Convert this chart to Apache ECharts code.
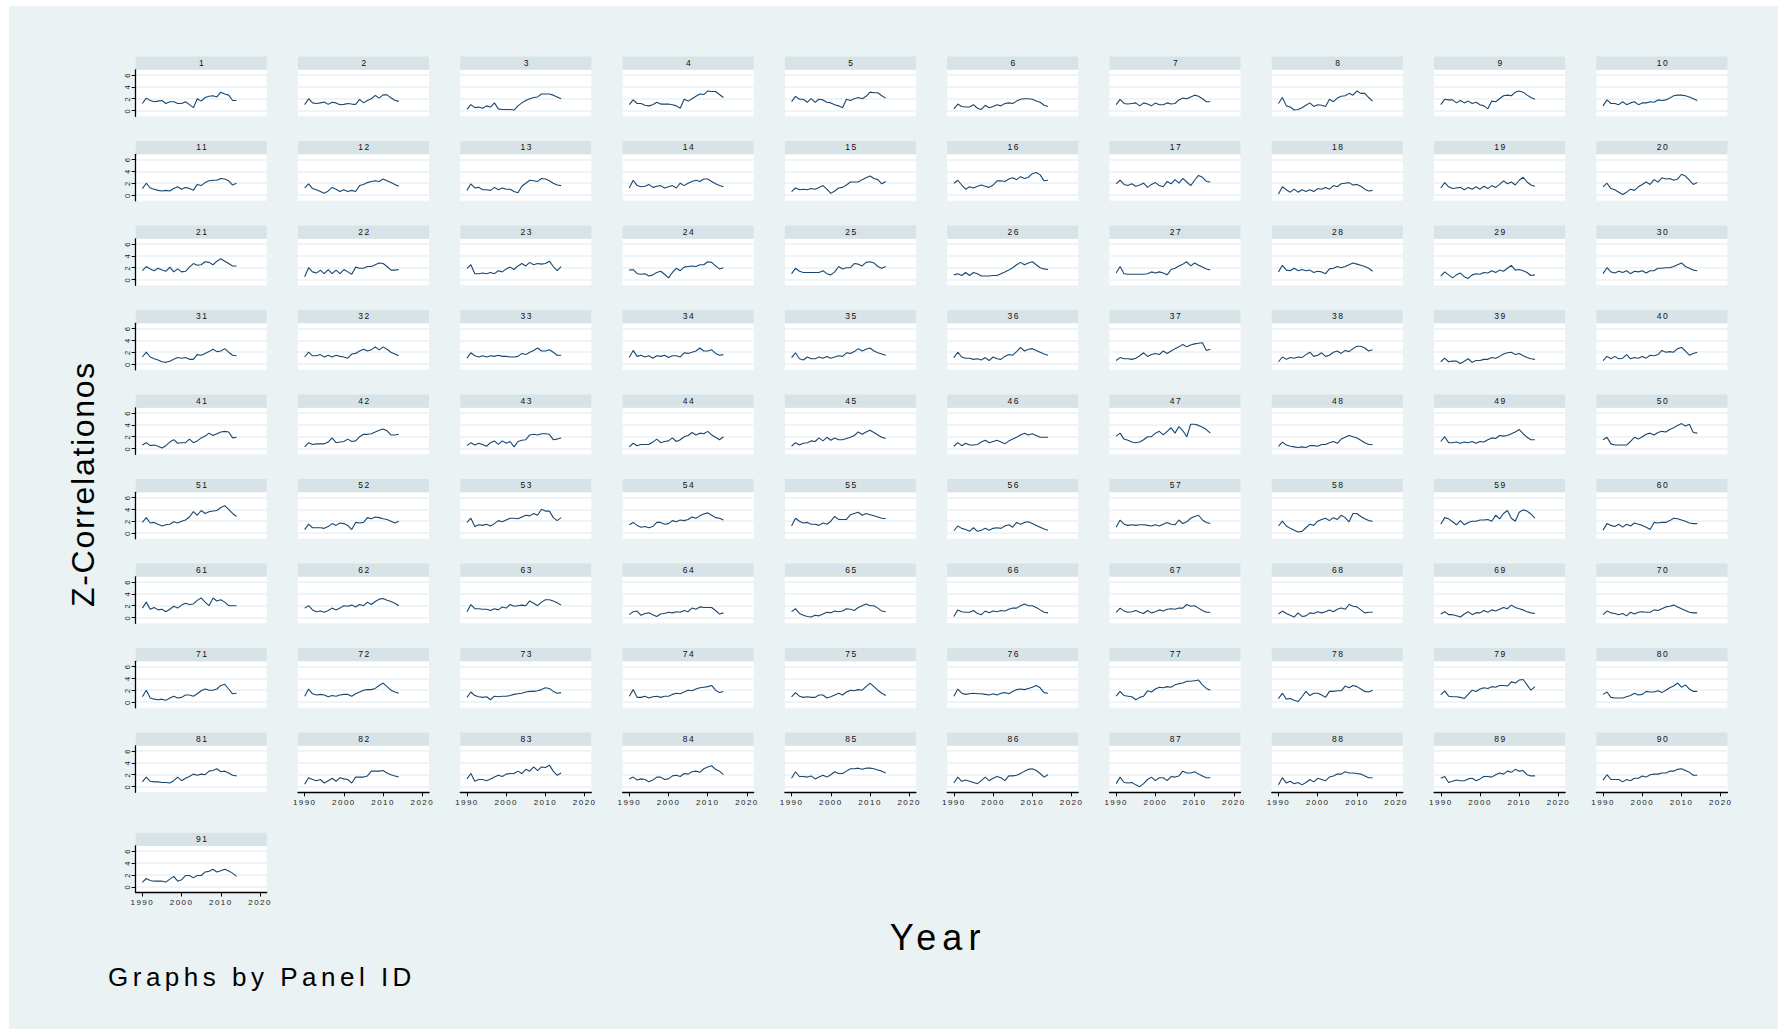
<!DOCTYPE html>
<html>
<head>
<meta charset="utf-8">
<script src="https://cdn.jsdelivr.net/npm/echarts@6/dist/echarts.min.js"></script>
<style>
    html, body { margin: 0; padding: 0; background: #ffffff; }
    #chart { width: 1787px; height: 1031px; }
    #chart svg text { letter-spacing: 0.18em; }
    #chart svg text[style*="32px"] { letter-spacing: 1.7px; }
    #chart svg text[style*="36px"] { letter-spacing: 6px; }
    #chart svg text[style*="26px"] { letter-spacing: 4.5px; }
</style>
</head>
<body>
<div id="chart"></div>
<script>
const years = [1990, 1991, 1992, 1993, 1994, 1995, 1996, 1997, 1998, 1999, 2000, 2001, 2002,
    2003, 2004, 2005, 2006, 2007, 2008, 2009, 2010, 2011, 2012, 2013, 2014];

const xTicks = [1990, 2000, 2010, 2020];
const yTicks = [0, 2, 4, 6];

// one row per panel (Panel ID 1..91)
const zCorr = [
    [1.2,2.1,1.7,1.5,1.6,1.7,1.2,1.5,1.5,1.2,1.2,1.5,1.0,0.5,2.0,1.6,2.2,2.4,2.5,2.3,3.1,2.8,2.6,1.7,1.7],
    [1.0,2.0,1.3,1.2,1.3,1.45,1.05,1.4,1.3,1.0,1.05,1.2,1.1,1.05,1.9,1.3,1.7,2.0,2.55,2.1,2.65,2.65,2.15,1.75,1.55],
    [0.2,1.0,0.5,0.6,0.4,0.8,0.6,1.3,0.3,0.2,0.2,0.2,0.1,0.8,1.3,1.7,2.0,2.2,2.3,2.8,2.8,2.8,2.6,2.3,2.0],
    [1.0,1.8,1.2,1.2,0.9,0.8,1.0,1.4,1.1,1.1,1.1,1.0,0.8,0.4,1.9,1.6,2.0,2.4,2.8,2.7,3.3,3.2,3.2,2.7,2.2],
    [1.5,2.4,1.9,1.9,1.4,2.0,1.4,1.9,1.8,1.4,1.3,1.0,0.8,0.5,1.9,1.7,2.0,2.2,2.0,2.4,3.1,3.0,3.0,2.5,2.1],
    [0.3,1.1,0.7,0.6,0.6,1.0,0.4,0.2,0.9,0.5,0.7,1.0,0.8,1.2,1.3,1.2,1.6,1.9,2.0,2.0,1.9,1.6,1.4,0.9,0.7],
    [1.0,1.9,1.2,1.1,1.2,1.3,0.8,1.3,1.1,0.8,1.3,1.0,1.0,1.3,1.1,1.2,1.8,2.1,2.0,2.3,2.6,2.4,2.0,1.5,1.5],
    [1.2,2.2,0.8,0.6,0.1,0.2,0.5,0.9,1.3,0.7,1.0,0.9,0.7,1.9,1.5,2.1,2.4,2.5,2.9,2.6,3.3,2.9,2.9,2.2,1.6],
    [1.0,1.9,1.8,1.8,1.3,1.7,1.3,1.6,1.2,1.4,1.0,0.8,0.3,1.6,1.5,2.0,2.5,2.6,2.5,3.1,3.3,3.1,2.6,2.2,1.9],
    [0.8,1.8,1.2,1.2,1.0,1.5,1.0,1.3,1.5,1.0,1.3,1.3,1.5,1.4,1.8,1.7,1.8,2.1,2.5,2.6,2.6,2.5,2.3,2.0,1.7],
    [1.1,2.0,1.2,1.0,0.8,0.7,0.8,0.7,1.1,1.4,1.0,1.3,1.1,0.8,1.8,1.6,2.1,2.4,2.5,2.5,2.8,2.7,2.4,1.7,2.0],
    [1.2,1.9,1.1,0.9,0.6,0.3,0.7,1.3,1.0,0.6,0.9,0.6,0.8,0.6,1.6,1.8,2.1,2.3,2.4,2.3,2.7,2.4,2.1,1.8,1.5],
    [0.8,1.9,1.2,1.3,0.9,0.9,0.8,1.3,0.9,1.2,1.0,1.0,0.6,0.4,1.5,2.0,2.5,2.4,2.3,2.8,2.7,2.4,2.0,1.7,1.6],
    [1.2,2.5,1.6,1.4,1.5,1.8,1.3,1.5,1.6,1.2,1.4,1.6,1.2,2.0,1.6,2.0,2.3,2.5,2.3,2.7,2.7,2.3,1.9,1.6,1.4],
    [0.6,1.2,0.9,1.0,0.9,1.1,1.0,1.3,1.6,1.0,0.3,0.7,1.2,1.3,1.7,2.2,2.2,2.2,2.6,2.9,3.2,2.8,2.6,1.9,2.3],
    [2.0,2.5,1.7,1.0,1.4,1.2,1.5,1.7,1.5,1.3,1.7,2.4,2.4,2.3,2.7,2.9,2.6,3.1,2.8,3.0,3.6,3.8,3.4,2.4,2.5],
    [1.9,2.5,1.8,1.6,1.9,1.5,1.7,2.0,1.3,1.8,2.1,1.6,1.4,2.3,1.9,2.6,2.0,2.8,2.2,1.6,2.5,3.3,3.0,2.3,2.2],
    [0.2,1.4,0.9,0.5,1.0,0.5,0.9,0.6,0.9,0.6,1.1,1.0,1.3,1.0,1.6,1.4,1.9,2.0,2.1,1.7,1.8,1.5,1.0,0.7,0.8],
    [1.2,2.1,1.4,1.1,1.2,1.3,0.9,1.3,1.0,1.4,1.0,1.5,1.1,1.6,1.3,1.8,2.4,1.9,2.2,1.7,2.5,3.0,2.2,1.7,1.5],
    [1.4,2.0,1.1,0.9,0.5,0.1,0.5,1.0,0.8,1.4,1.8,2.2,1.8,2.6,2.2,2.9,2.7,2.8,2.5,2.7,3.5,3.2,2.5,1.8,2.1],
    [1.5,2.2,1.8,1.5,1.9,1.6,1.4,2.1,1.3,1.8,1.3,1.4,2.1,2.7,2.4,2.5,3.0,2.9,2.5,3.1,3.5,3.1,2.7,2.3,2.3],
    [0.5,2.0,1.3,1.1,1.6,1.0,1.7,1.0,1.6,1.0,1.7,1.3,0.9,2.1,1.9,1.9,2.2,2.2,2.5,2.8,2.7,2.2,1.6,1.6,1.7],
    [1.9,2.5,1.0,1.0,1.1,1.0,1.2,1.0,1.5,1.3,1.8,2.1,1.7,2.3,2.7,2.3,2.9,2.5,2.7,2.6,2.7,3.1,2.2,1.5,2.2],
    [1.6,1.7,1.0,0.9,1.0,0.6,0.8,1.2,1.4,0.9,0.3,1.2,1.9,1.5,2.1,2.2,2.3,2.2,2.5,2.5,3.0,2.9,2.3,1.8,2.0],
    [1.0,1.9,1.4,1.2,1.2,1.2,1.2,1.2,1.5,1.0,0.8,1.3,2.2,1.8,2.0,2.0,2.7,2.6,2.3,2.9,3.0,2.8,2.2,1.9,2.2],
    [0.8,1.0,0.7,1.2,0.7,1.2,1.0,0.6,0.6,0.6,0.7,0.7,1.0,1.3,1.6,2.0,2.5,2.9,2.5,2.8,3.0,2.5,2.0,1.8,1.7],
    [1.1,2.2,1.0,0.9,0.9,0.9,0.9,0.9,1.0,1.3,1.1,1.3,1.1,0.8,1.7,1.9,2.3,2.6,3.0,2.3,2.8,2.4,2.1,1.8,1.6],
    [1.3,2.4,1.6,1.5,1.9,1.5,1.7,1.5,1.6,1.2,1.4,1.3,1.0,1.8,1.9,2.2,2.0,2.2,2.5,2.8,2.6,2.4,2.2,1.9,1.4],
    [0.6,1.3,0.8,0.3,0.8,1.1,0.5,0.2,0.8,1.0,0.9,1.2,1.1,1.5,1.2,1.6,1.4,1.9,2.4,1.6,1.7,1.5,1.2,0.7,0.8],
    [1.0,2.0,1.3,1.1,1.4,1.2,1.5,1.0,1.4,1.3,1.5,1.1,1.5,1.5,1.9,1.9,2.0,2.0,2.2,2.5,2.8,2.2,1.9,1.6,1.5],
    [1.2,2.0,1.2,0.9,0.7,0.4,0.3,0.5,0.8,1.1,1.0,1.1,0.8,0.8,1.6,1.5,1.8,2.1,2.5,2.1,2.2,2.6,2.0,1.5,1.4],
    [1.2,2.0,1.4,1.4,1.6,1.2,1.5,1.2,1.5,1.3,1.2,1.0,1.7,1.8,2.2,2.5,2.2,2.4,2.9,2.4,2.9,2.5,2.0,1.7,1.4],
    [1.0,1.9,1.4,1.2,1.4,1.2,1.4,1.3,1.5,1.3,1.3,1.2,1.2,1.3,1.8,1.6,2.0,2.3,2.7,2.2,2.2,2.4,2.0,1.5,1.5],
    [1.1,2.3,1.3,1.5,1.2,1.4,1.0,1.4,1.3,1.5,1.1,1.4,1.4,1.2,1.9,1.8,2.0,2.2,2.7,2.2,2.2,2.4,1.8,1.5,1.6],
    [1.1,1.9,0.9,0.7,1.2,0.9,0.9,1.2,1.0,1.3,1.0,1.2,1.4,1.3,1.9,1.8,2.1,2.6,2.2,2.5,2.7,2.2,1.9,1.7,1.5],
    [1.1,2.0,1.2,1.0,1.0,0.8,0.9,0.7,1.1,0.6,1.2,0.9,0.8,1.3,1.6,1.5,2.1,2.8,2.2,2.5,2.6,2.3,2.0,1.7,1.5],
    [0.6,1.1,0.9,0.9,0.8,1.0,1.4,1.9,1.3,1.6,1.8,1.6,2.2,1.8,2.2,2.6,2.9,3.3,2.9,3.2,3.4,3.5,3.6,2.3,2.5],
    [0.4,1.2,0.8,1.1,1.0,1.2,1.1,1.6,2.0,1.3,1.5,1.9,1.3,1.5,2.0,2.2,1.8,2.3,2.1,2.6,3.0,3.0,2.7,2.2,2.4],
    [0.4,1.0,0.4,0.5,0.5,0.1,0.5,0.9,0.3,0.6,0.6,0.8,0.8,1.1,1.0,1.3,1.7,1.9,2.0,1.6,1.8,1.4,1.1,0.9,0.8],
    [0.6,1.3,0.9,1.3,0.9,1.0,1.6,0.9,1.1,1.0,1.3,1.0,1.5,1.4,1.6,2.3,2.0,2.1,2.0,2.6,2.8,2.2,1.5,1.8,2.0],
    [0.6,1.0,0.5,0.6,0.4,0.1,0.5,1.1,1.5,0.9,1.0,1.0,1.6,1.0,1.3,1.8,2.1,2.6,2.2,2.5,2.8,2.9,2.8,1.8,1.9],
    [0.3,1.0,0.7,0.8,0.8,0.8,1.1,1.8,1.0,1.1,1.2,1.6,1.2,1.3,2.0,2.4,2.4,2.5,2.8,3.1,3.3,3.0,2.3,2.3,2.4],
    [0.5,1.0,0.6,0.9,0.7,0.4,1.0,1.3,0.7,1.3,0.9,1.2,0.3,1.2,1.4,1.5,2.3,2.4,2.3,2.5,2.5,2.4,1.5,1.6,1.8],
    [0.3,0.9,0.5,0.7,0.7,0.7,1.1,1.6,1.0,1.2,1.3,1.8,1.2,1.5,2.0,2.2,2.7,2.3,2.6,2.5,2.9,2.3,1.9,1.5,2.0],
    [0.4,1.0,0.6,0.9,1.0,1.3,1.2,1.8,1.3,1.9,1.4,1.8,1.5,1.5,1.7,1.9,2.2,2.8,2.4,2.8,3.1,2.7,2.3,1.9,1.7],
    [0.4,1.0,0.5,0.9,0.6,0.6,0.7,1.1,1.4,1.0,1.2,1.4,1.1,0.8,1.3,1.6,1.9,2.3,2.6,2.3,2.5,2.2,1.9,1.9,1.9],
    [2.1,2.6,1.6,1.4,1.1,1.0,1.1,1.5,2.0,2.0,2.6,2.9,2.3,2.9,3.5,2.6,3.7,3.0,2.0,4.1,4.1,3.9,3.6,3.2,2.6],
    [0.4,1.1,0.6,0.4,0.3,0.2,0.3,0.2,0.5,0.5,0.4,0.7,0.7,1.0,1.2,0.9,1.6,1.9,2.2,2.0,1.8,1.4,1.0,0.7,0.7],
    [1.2,2.0,1.0,1.0,1.1,0.9,1.1,1.0,1.2,0.9,1.2,1.1,1.5,1.8,1.7,2.2,2.1,2.2,2.5,2.8,3.2,2.5,1.9,1.5,1.5],
    [1.5,1.9,0.8,0.6,0.6,0.6,0.6,1.2,1.9,1.6,2.0,2.4,2.6,2.3,2.7,2.9,2.8,3.2,3.5,3.9,4.2,3.8,4.1,2.7,2.6],
    [1.8,2.6,1.7,1.8,1.5,1.2,1.4,1.5,1.9,1.7,2.0,2.2,2.7,3.6,3.0,3.8,3.3,3.6,3.7,3.8,4.3,4.6,4.0,3.3,2.8],
    [0.6,1.5,0.9,0.9,0.9,0.8,1.1,1.6,1.3,1.7,1.6,1.3,0.6,1.8,1.7,1.8,2.6,2.4,2.7,2.6,2.4,2.3,2.0,1.7,2.0],
    [1.8,2.5,1.1,1.4,1.3,1.5,1.2,1.6,2.1,1.9,2.2,2.5,2.5,2.4,2.7,3.0,2.9,3.3,3.0,4.0,3.7,3.7,2.6,2.1,2.6],
    [1.4,1.8,1.3,1.0,1.1,0.9,1.1,1.8,1.8,1.5,1.6,2.1,1.9,2.2,2.1,2.3,2.7,2.5,2.9,3.2,3.4,3.0,2.6,2.5,2.2],
    [1.2,2.5,2.0,1.7,1.8,1.5,1.5,1.3,1.7,1.5,2.0,2.8,2.3,2.3,2.3,3.1,3.3,3.5,3.0,3.3,3.1,2.9,2.7,2.5,2.4],
    [0.4,1.2,0.8,0.6,0.3,0.9,0.3,0.5,0.8,0.5,0.8,0.9,0.8,1.2,1.4,1.0,1.8,1.5,1.8,1.9,1.6,1.3,1.0,0.7,0.5],
    [1.0,2.2,1.5,1.3,1.4,1.3,1.4,1.4,1.3,1.2,1.4,1.2,1.5,1.8,1.5,1.4,2.2,1.6,1.9,2.5,2.8,3.0,2.2,1.8,1.6],
    [1.2,2.0,1.2,0.8,0.5,0.2,0.3,0.9,1.5,1.3,2.0,2.3,2.5,2.1,2.6,2.3,3.0,2.6,1.9,3.3,3.3,2.8,2.4,2.1,2.0],
    [1.5,2.6,2.4,1.9,1.4,2.1,1.4,1.8,2.0,2.0,2.2,2.2,2.3,2.0,3.0,2.4,3.3,3.8,2.5,2.0,3.5,3.9,3.7,3.2,2.5],
    [0.5,1.6,1.3,1.1,1.5,1.0,1.5,1.2,1.7,1.5,1.3,1.0,0.6,1.8,1.7,1.8,1.8,2.1,2.5,2.4,2.2,2.0,1.7,1.6,1.6],
    [1.6,2.6,1.4,1.7,1.3,1.4,1.0,1.4,1.9,1.6,2.1,2.4,2.2,2.3,2.9,3.3,2.6,2.0,3.3,2.8,3.0,2.6,2.0,2.0,2.0],
    [1.6,2.0,1.3,1.0,1.1,0.9,1.2,1.6,1.3,1.6,2.0,1.9,2.1,1.8,2.2,2.0,2.6,2.2,2.7,3.1,3.2,2.9,2.7,2.4,2.0],
    [1.0,2.2,1.5,1.5,1.4,1.4,1.2,1.5,1.3,1.8,1.6,2.2,1.9,2.0,2.1,2.0,2.8,2.4,2.0,2.6,3.0,3.0,2.8,2.5,2.1],
    [0.5,1.0,1.1,0.4,0.7,0.8,0.5,0.2,0.6,0.7,0.9,0.8,1.0,0.9,1.2,1.0,1.6,1.4,1.8,1.7,1.7,1.7,1.2,0.6,0.8],
    [1.0,1.5,0.7,0.4,0.2,0.1,0.4,0.3,0.6,0.9,0.8,1.1,1.0,1.1,1.5,1.4,1.2,1.7,2.0,2.3,2.0,2.0,1.6,1.1,1.0],
    [0.2,1.3,1.0,0.9,0.9,1.2,0.7,0.5,1.1,0.8,1.1,1.0,1.2,1.1,1.4,1.6,1.6,2.0,2.3,2.0,2.0,1.7,1.3,0.9,0.8],
    [0.9,1.6,1.1,0.9,1.0,1.2,0.9,0.7,1.2,0.8,1.0,1.3,1.1,1.4,1.5,1.4,1.6,1.6,2.2,1.9,2.0,1.6,1.2,0.9,0.9],
    [0.6,1.1,0.7,0.4,0.1,0.8,0.2,0.3,0.8,0.7,1.0,0.8,1.0,1.3,1.0,1.4,1.6,1.4,2.2,1.9,1.8,1.3,0.8,0.9,0.9],
    [0.6,1.0,0.5,0.5,0.3,0.1,0.6,1.0,0.5,0.8,0.8,1.2,0.9,1.3,1.1,1.4,1.7,1.5,2.1,1.7,1.5,1.3,1.0,0.8,0.7],
    [0.5,1.1,0.8,0.7,0.5,0.7,0.3,0.9,0.6,0.9,1.0,0.9,0.9,1.3,1.2,1.5,1.8,1.9,2.1,1.8,1.5,1.2,0.9,0.8,0.8],
    [0.9,2.0,0.7,0.5,0.4,0.5,0.3,0.7,1.0,0.7,0.8,1.2,1.2,1.0,1.4,1.9,2.2,2.0,2.0,2.2,2.8,3.0,2.2,1.4,1.5],
    [1.0,2.2,1.4,1.2,1.3,1.2,0.9,1.1,1.0,1.2,1.3,1.3,1.0,1.4,1.7,2.0,2.1,2.1,2.3,2.8,3.2,2.6,2.0,1.7,1.5],
    [0.8,1.7,1.1,0.9,0.8,0.9,0.4,1.0,0.9,1.0,1.0,1.1,1.3,1.4,1.5,1.7,1.8,1.8,1.9,2.1,2.4,2.3,1.8,1.5,1.6],
    [1.0,2.1,0.8,0.8,1.0,0.7,0.9,1.0,0.8,1.0,1.0,1.3,1.5,1.4,1.7,2.0,1.9,2.2,2.4,2.5,2.6,2.8,2.0,1.6,1.8],
    [0.9,1.6,1.0,0.8,0.9,0.8,0.8,1.2,1.2,0.7,0.9,1.2,1.5,1.2,1.7,2.0,1.9,2.1,2.0,2.6,3.2,2.6,2.0,1.5,1.1],
    [1.0,2.2,1.5,1.3,1.4,1.5,1.4,1.4,1.3,1.2,1.4,1.2,1.5,1.6,1.4,1.8,2.1,2.2,2.1,2.3,2.5,2.8,2.4,1.6,1.5],
    [1.0,1.8,1.1,1.0,0.9,0.4,0.8,1.0,1.9,1.7,2.2,2.5,2.4,2.6,2.5,2.9,3.1,3.2,3.5,3.5,3.6,3.7,2.9,2.3,2.0],
    [0.6,1.5,0.5,0.6,0.3,0.1,0.9,1.8,1.1,1.5,1.5,1.2,0.8,1.8,1.8,1.9,1.9,2.7,2.4,2.8,2.6,2.2,1.8,1.7,2.0],
    [1.2,1.9,1.0,0.9,0.9,0.8,0.6,1.3,2.0,1.8,2.2,2.4,2.3,2.6,2.5,2.8,2.8,2.7,3.4,3.2,3.7,3.8,2.9,2.0,2.6],
    [1.3,1.7,0.8,0.7,0.7,0.7,0.9,1.1,1.5,1.2,1.3,1.8,1.7,1.7,1.9,1.6,2.0,2.4,2.7,3.2,2.5,2.9,2.2,1.8,1.8],
    [0.8,1.6,0.9,0.8,0.8,0.7,0.7,0.6,1.0,1.6,1.0,1.4,1.7,2.1,1.9,2.1,2.0,2.6,2.7,3.0,2.5,2.6,2.3,1.9,1.8],
    [0.4,1.5,1.2,1.0,1.2,0.6,1.0,1.4,0.9,1.5,1.3,1.2,0.6,1.6,1.6,1.6,1.8,2.6,2.6,2.6,2.7,2.3,2.0,1.8,1.6],
    [1.3,2.2,0.9,1.2,1.2,1.0,1.3,1.6,1.9,1.7,2.1,2.2,2.2,2.6,2.2,2.9,2.6,3.3,2.7,3.3,3.2,3.6,2.6,1.9,2.3],
    [1.3,1.6,1.1,1.3,1.2,0.8,1.1,1.6,1.6,1.2,1.3,1.8,1.9,1.7,2.2,2.1,2.5,2.6,2.4,3.0,3.3,3.5,2.9,2.6,2.0],
    [1.4,2.5,1.7,1.7,1.6,1.8,1.3,1.6,1.9,1.6,2.0,2.5,2.2,2.2,2.6,3.0,3.0,3.1,2.9,3.1,3.1,3.0,2.8,2.6,2.3],
    [0.6,1.6,0.9,1.1,0.9,0.7,0.5,1.0,1.6,1.0,1.4,1.7,1.5,1.0,1.8,1.8,1.9,2.2,2.6,2.9,3.0,2.7,2.2,1.6,2.0],
    [0.5,1.6,0.7,0.6,0.7,0.3,0.0,0.5,1.2,1.6,1.0,1.5,1.5,1.0,1.7,1.6,1.8,2.6,2.3,2.3,2.5,2.1,1.8,1.5,1.5],
    [0.3,1.5,0.6,0.9,0.5,0.7,0.3,0.7,1.2,0.8,1.4,1.2,1.0,1.6,1.8,2.1,2.1,2.5,2.3,2.3,2.2,2.1,1.8,1.5,1.5],
    [1.4,1.7,0.7,0.9,1.1,1.0,1.0,1.3,1.4,1.0,1.3,1.7,1.7,1.6,2.0,2.3,2.1,2.6,2.4,2.9,2.6,2.7,2.0,1.8,1.8],
    [1.1,2.0,1.2,1.2,1.2,0.8,1.2,1.0,1.4,1.4,1.8,1.6,2.0,2.1,2.1,2.3,2.3,2.6,2.6,2.9,3.0,2.7,2.4,1.9,1.9],
    [0.75,1.4,1.05,0.95,0.95,0.95,0.8,1.3,1.75,0.95,1.2,1.9,1.9,1.5,1.9,1.9,2.5,2.6,2.95,2.5,2.7,2.95,2.65,2.3,1.75]
];

const FONT = "'Liberation Sans', Arial, sans-serif";
const LINE_COLOR = '#1a476f';
const BG = '#eaf2f3';
const STRIP_COLOR = '#d8e3e8';

// panel geometry (px)
const NCOL = 10;
const colLeft = c => 135.7 + c * 162.3;
const rowTop = r => r < 9 ? 56.5 + r * 84.5 : 832.7;
const PANEL_W = 131;
const STRIP_H = 13.3;
const PLOT_H = 46.5;

function buildPanels() {
    let grids = [], xAxes = [], yAxes = [], series = [], graphics = [];

    zCorr.forEach((vals, i) => {
        let r = Math.floor(i / NCOL);
        let c = i % NCOL;
        let left = colLeft(c);
        let top = rowTop(r);
        let hasX = i >= 81;
        let hasY = c === 0;

        // title strip with the panel id
        graphics.push({
            type: 'rect',
            shape: { x: left, y: top, width: PANEL_W, height: STRIP_H },
            style: { fill: STRIP_COLOR },
            silent: true
        });
        graphics.push({
            type: 'text',
            x: left + PANEL_W / 2 + 1,
            y: top + STRIP_H / 2 - 0.5,
            style: {
                text: String(i + 1),
                fill: '#111',
                font: '8.5px ' + FONT,
                align: 'center',
                verticalAlign: 'middle'
            },
            silent: true
        });

        grids.push({
            left: left,
            top: top + STRIP_H,
            width: PANEL_W,
            height: PLOT_H,
            show: true,
            backgroundColor: '#ffffff',
            borderWidth: 0,
            outerBoundsMode: 'none'
        });

        xAxes.push({
            gridIndex: i,
            type: 'value',
            min: 1988.3,
            max: 2021.7,
            axisLine: { show: hasX, onZero: false, lineStyle: { color: '#000', width: 1.3 } },
            axisTick: { show: hasX, customValues: xTicks, length: 4, lineStyle: { color: '#000', width: 1 } },
            axisLabel: {
                show: hasX, customValues: xTicks, margin: 6,
                fontSize: 8, fontFamily: FONT, color: '#222',
                formatter: v => String(v)
            },
            splitLine: { show: false }
        });

        yAxes.push({
            gridIndex: i,
            type: 'value',
            min: -0.95,
            max: 6.85,
            axisLine: { show: hasY, onZero: false, lineStyle: { color: '#000', width: 1.3 } },
            axisTick: { show: hasY, customValues: yTicks, length: 4, lineStyle: { color: '#000', width: 1 } },
            axisLabel: {
                show: hasY, customValues: yTicks, rotate: 90, margin: 4,
                fontSize: 7.5, fontFamily: FONT, color: '#222',
                formatter: v => String(v)
            },
            splitLine: { show: true, lineStyle: { color: BG, width: 1.6 } }
        });

        series.push({
            type: 'line',
            xAxisIndex: i,
            yAxisIndex: i,
            data: years.map((y, k) => [y, vals[k]]),
            showSymbol: false,
            symbol: 'none',
            lineStyle: { color: LINE_COLOR, width: 1.1 },
            silent: true
        });
    });

    return { grids, xAxes, yAxes, series, graphics };
}

function createPanelChart() {
    let chartDom = document.getElementById('chart');
    let myChart = echarts.init(chartDom, null, { renderer: 'svg' });
    let p = buildPanels();

    let background = {
        type: 'rect',
        z: -10,
        shape: { x: 9, y: 6, width: 1769, height: 1023 },
        style: { fill: BG },
        silent: true
    };

    let labels = [
        {
            type: 'text',
            x: 83, y: 484,
            rotation: Math.PI / 2,
            style: { text: 'Z-Correlationos', fill: '#000', font: '32px ' + FONT, align: 'center', verticalAlign: 'middle' }
        },
        {
            type: 'text',
            x: 938, y: 937,
            style: { text: 'Year', fill: '#000', font: '36px ' + FONT, align: 'center', verticalAlign: 'middle' }
        },
        {
            type: 'text',
            x: 108, y: 977,
            style: { text: 'Graphs by Panel ID', fill: '#000', font: '26px ' + FONT, align: 'left', verticalAlign: 'middle' }
        }
    ];

    let option = {
        animation: false,
        backgroundColor: '#ffffff',
        graphic: [background].concat(p.graphics, labels),
        grid: p.grids,
        xAxis: p.xAxes,
        yAxis: p.yAxes,
        series: p.series
    };

    option && myChart.setOption(option);
}

createPanelChart();
</script>
</body>
</html>
